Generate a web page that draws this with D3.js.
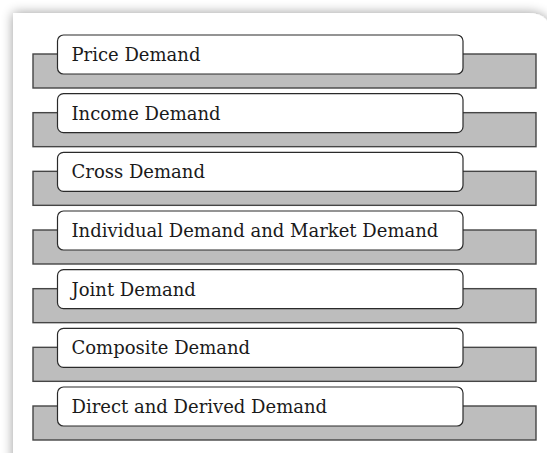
<!DOCTYPE html>
<html>
<head>
<meta charset="utf-8">
<script src="https://cdn.jsdelivr.net/npm/d3@7"></script>
<style>
  html, body { margin: 0; padding: 0; background: #fff; }
  svg { display: block; }
</style>
</head>
<body>
<svg></svg>
<script>
// types of demand, top to bottom
const labels = [
  "Price Demand",
  "Income Demand",
  "Cross Demand",
  "Individual Demand and Market Demand",
  "Joint Demand",
  "Composite Demand",
  "Direct and Derived Demand"
];

const width = 547;
const height = 453;

const svg = d3.select("svg")
  .attr("width", width)
  .attr("height", height);

// soft shadow around the card
const defs = svg.append("defs");
const f = defs.append("filter")
  .attr("id", "shadow")
  .attr("x", "-10%").attr("y", "-10%")
  .attr("width", "120%").attr("height", "120%");
f.append("feGaussianBlur").attr("in", "SourceAlpha").attr("stdDeviation", 6).attr("result", "b");
f.append("feComponentTransfer").attr("in", "b").attr("result", "b2")
  .append("feFuncA").attr("type", "linear").attr("slope", 0.4);
const fm = f.append("feMerge");
fm.append("feMergeNode").attr("in", "b2");
fm.append("feMergeNode").attr("in", "SourceGraphic");

// card (right and bottom run off the page)
svg.append("path")
  .attr("d", `M13,${height + 30} L13,13 L528,13 Q551,13 551,36 L551,${height + 30} Z`)
  .attr("fill", "#fff")
  .attr("filter", "url(#shadow)");

// vertical placement of the gray bars
const y = d3.scalePoint()
  .domain(labels)
  .range([54, 406]);

const barH = 34;
const boxTop = -19, boxH = 39;

const x = d3.scaleLinear().domain([0, 1]).range([33, 536]);
const boxX0 = 57.5, boxX1 = 463;

const rows = svg.selectAll("g.row")
  .data(labels)
  .enter()
  .append("g")
  .attr("class", "row")
  .attr("transform", d => `translate(0, ${y(d)})`);

rows.append("rect")
  .attr("x", x(0))
  .attr("y", 0)
  .attr("width", x(1) - x(0))
  .attr("height", barH)
  .attr("fill", "#bdbdbd")
  .attr("stroke", "#454545")
  .attr("stroke-width", 1.4);

rows.append("rect")
  .attr("x", boxX0)
  .attr("y", boxTop)
  .attr("width", boxX1 - boxX0)
  .attr("height", boxH)
  .attr("rx", 6)
  .attr("fill", "#fff")
  .attr("stroke", "#2a2a2a")
  .attr("stroke-width", 1.2);

rows.append("text")
  .attr("x", 71.5)
  .attr("y", 7)
  .attr("font-family", "'DejaVu Serif', serif")
  .attr("font-size", 18)
  .attr("fill", "#1a1a1a")
  .text(d => d);
</script>
</body>
</html>
